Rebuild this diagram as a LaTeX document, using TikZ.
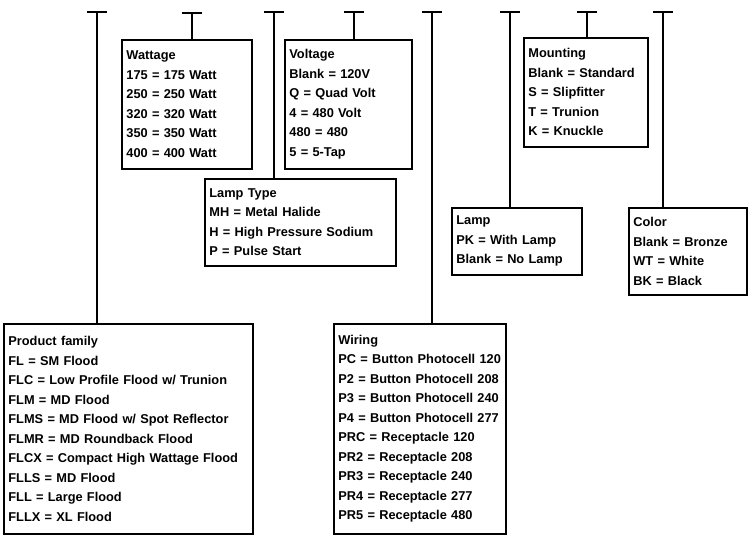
\documentclass[tikz,border=0pt]{standalone}
\usepackage{fontspec}
\setmainfont{Liberation Sans}
\begin{document}
\begin{tikzpicture}[x=1pt,y=-1pt,
  box/.style={draw, line width=1.8pt, anchor=north west, inner xsep=4.5pt, inner ysep=0pt,
    align=left, font=\fontsize{12.8}{19.5}\selectfont\bfseries},
  conn/.style={line width=1.8pt},
  tbar/.style={line width=2.4pt}]
\useasboundingbox (0,0) rectangle (748,535);
% boxes
\node[box, text width=240pt, minimum height=210pt] (prod) at (3,323)
 {Product family\\FL = SM Flood\\FLC = Low Profile Flood w/ Trunion\\FLM = MD Flood\\FLMS = MD Flood w/ Spot Reflector\\FLMR = MD Roundback Flood\\FLCX = Compact High Wattage Flood\\FLLS = MD Flood\\FLL = Large Flood\\FLLX = XL Flood};
\node[box, text width=121pt, minimum height=129pt] (watt) at (121,39)
 {Wattage\\175 = 175 Watt\\250 = 250 Watt\\320 = 320 Watt\\350 = 350 Watt\\400 = 400 Watt};
\node[box, text width=182pt, minimum height=87pt] (ltype) at (204,178)
 {Lamp Type\\MH = Metal Halide\\H = High Pressure Sodium\\P = Pulse Start};
\node[box, text width=118pt, minimum height=129pt] (volt) at (284,39)
 {Voltage\\Blank = 120V\\Q = Quad Volt\\4 = 480 Volt\\480 = 480\\5 = 5-Tap};
\node[box, text width=163pt, minimum height=210pt] (wire) at (333,323)
 {Wiring\\PC = Button Photocell 120\\P2 = Button Photocell 208\\P3 = Button Photocell 240\\P4 = Button Photocell 277\\PRC = Receptacle 120\\PR2 = Receptacle 208\\PR3 = Receptacle 240\\PR4 = Receptacle 277\\PR5 = Receptacle 480};
\node[box, text width=121pt, minimum height=67pt] (lamp) at (451,207)
 {Lamp\\PK = With Lamp\\Blank = No Lamp};
\node[box, text width=115pt, minimum height=109pt] (mount) at (523,37)
 {Mounting\\Blank = Standard\\S = Slipfitter\\T = Trunion\\K = Knuckle};
\node[box, text width=109pt, minimum height=87pt] (color) at (628,207)
 {Color\\Blank = Bronze\\WT = White\\BK = Black};
% T connectors
\coordinate (t1) at (97,12);
\coordinate (t2) at (192,13);
\coordinate (t3) at (274,12);
\coordinate (t4) at (354,12);
\coordinate (t5) at (432,12);
\coordinate (t6) at (510,12);
\coordinate (t7) at (587,12);
\coordinate (t8) at (663,12);
\foreach \t/\b in {t1/prod,t2/watt,t3/ltype,t4/volt,t5/wire,t6/lamp,t7/mount,t8/color}{
  \draw[tbar] ([xshift=-10pt]\t) -- ([xshift=10pt]\t);
  \draw[conn] (\t) -- (\t |- \b.north);
}
\end{tikzpicture}
\end{document}
